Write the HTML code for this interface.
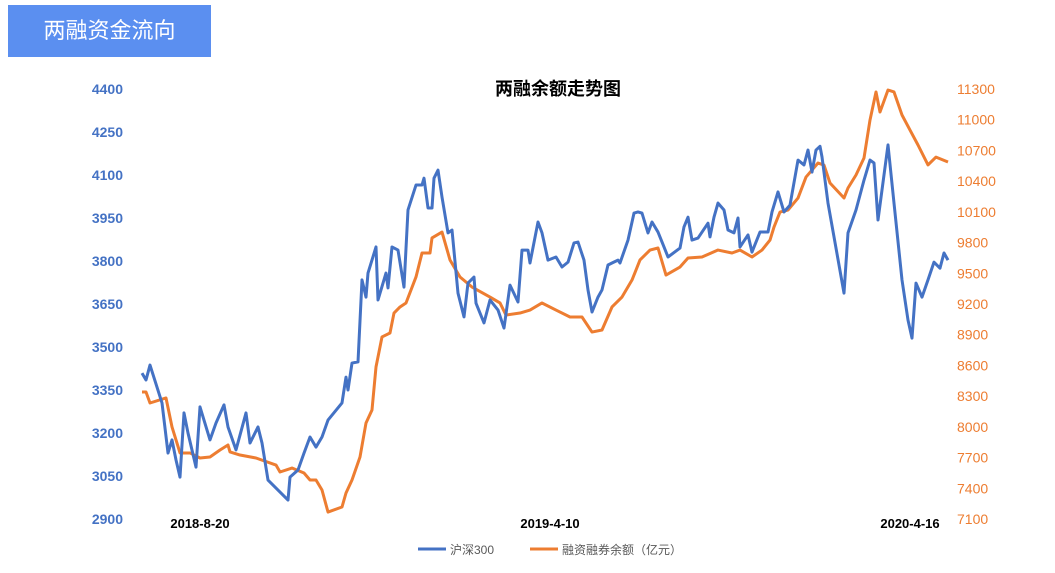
<!DOCTYPE html>
<html><head><meta charset="utf-8">
<style>
body{margin:0;background:#fff;width:1055px;height:573px;overflow:hidden;position:relative;font-family:"Liberation Sans","Noto Sans CJK SC",sans-serif;}
#tag{position:absolute;left:8px;top:5px;width:203px;height:52px;background:#5b8ff0;color:#fff;font-size:22px;line-height:52px;text-align:center;}
svg{position:absolute;left:0;top:0;}
</style></head><body>
<div id="tag">两融资金流向</div>
<svg id="chart" width="1055" height="573"></svg>
<script>
const leftTicks=[2900,3050,3200,3350,3500,3650,3800,3950,4100,4250,4400];
const rightTicks=[7100,7400,7700,8000,8300,8600,8900,9200,9500,9800,10100,10400,10700,11000,11300];
const dateLabels=["2018-8-20","2019-4-10","2020-4-16"];
const dateDays=[30,205,385];
const hsDays=[1,3,5,11,14,16,18,20,22,24,28,30,35,38,42,44,48,53,55,59,61,64,69,74,75,79,82,85,88,91,94,101,103,104,106,109,111,113,114,118,119,123,124,126,129,132,134,138,141,142,144,146,147,149,151,154,156,159,162,164,167,168,172,175,179,182,185,189,191,194,195,199,201,204,208,211,214,217,219,222,224,226,229,231,234,236,239,240,244,247,249,251,254,256,259,262,264,270,272,274,276,279,284,285,287,289,292,294,297,299,300,304,306,310,314,316,319,322,325,329,332,334,336,338,340,341,344,352,354,358,362,365,367,369,374,377,381,384,386,388,391,394,397,400,402,404];
const hsValues=[3409,3385,3437,3305,3130,3176,3106,3046,3270,3200,3081,3291,3176,3235,3298,3221,3141,3270,3165,3221,3165,3036,3001,2966,3046,3071,3130,3186,3151,3186,3245,3305,3395,3350,3444,3448,3734,3674,3758,3849,3664,3758,3706,3849,3838,3709,3978,4065,4065,4089,3985,3985,4089,4117,4023,3898,3908,3688,3605,3723,3744,3653,3584,3664,3629,3566,3716,3657,3838,3838,3793,3936,3898,3803,3814,3779,3796,3863,3866,3803,3699,3622,3674,3699,3786,3793,3803,3793,3873,3967,3971,3967,3898,3936,3901,3849,3814,3845,3919,3953,3873,3880,3932,3884,3953,4002,3978,3908,3898,3950,3849,3891,3831,3901,3901,3971,4041,3971,3995,4152,4135,4187,4110,4187,4200,4163,4002,3688,3898,3978,4082,4152,4142,3943,4205,4002,3734,3594,3531,3723,3674,3734,3796,3775,3828,3803];
const mgDays=[1,3,5,13,16,20,25,30,35,40,44,45,50,58,68,70,76,82,85,88,91,94,101,103,106,110,113,116,118,121,125,127,130,133,138,141,145,146,151,155,160,166,175,180,183,190,195,201,208,215,221,226,231,236,241,246,250,255,259,263,270,274,281,289,296,300,306,311,315,317,320,324,329,333,339,342,345,352,354,358,362,365,368,370,374,377,381,385,389,394,398,404];
const mgValues=[8340,8340,8233,8282,7999,7745,7745,7696,7706,7774,7823,7755,7725,7696,7627,7559,7598,7549,7481,7481,7383,7168,7217,7354,7481,7706,8038,8165,8585,8878,8917,9112,9171,9210,9464,9698,9698,9845,9903,9630,9464,9366,9268,9210,9092,9112,9141,9210,9141,9073,9073,8926,8946,9171,9268,9434,9630,9727,9747,9483,9561,9649,9659,9727,9698,9727,9659,9727,9825,9952,10098,10118,10235,10440,10577,10557,10382,10235,10333,10460,10626,10997,11271,11075,11290,11271,11046,10899,10753,10558,10635,10587];

const svg=document.getElementById('chart');
const NS='http://www.w3.org/2000/svg';
const X0=140,XPD=2;
const xs=d=>X0+d*XPD;
const yL=v=>519-(v-2900)*430/1500;
const yR=v=>519-(v-7100)*430/4200;
function mk(tag,attrs){const e=document.createElementNS(NS,tag);for(const k in attrs)e.setAttribute(k,attrs[k]);svg.appendChild(e);return e;}

let t=mk('text',{x:558,y:95,'text-anchor':'middle','font-size':18,'font-weight':'bold',fill:'#000'});
t.textContent='两融余额走势图';



leftTicks.forEach(v=>{const e=mk('text',{x:123,y:yL(v)+5,'text-anchor':'end','font-size':14,'font-weight':'bold',fill:'#4472c4'});e.textContent=v;

});
rightTicks.forEach(v=>{const e=mk('text',{x:957,y:yR(v)+5,'text-anchor':'start','font-size':14,fill:'#ed7d31'});e.textContent=v;

});
dateLabels.forEach((s,i)=>{const e=mk('text',{x:xs(dateDays[i]),y:528,'text-anchor':'middle','font-size':13,'font-weight':'bold',fill:'#000'});e.textContent=s;

});

const pm=mk('polyline',{points:mgDays.map((d,i)=>xs(d)+','+yR(mgValues[i])).join(' '),fill:'none',stroke:'#ed7d31','stroke-width':3,'stroke-linejoin':'round'});


const ph=mk('polyline',{points:hsDays.map((d,i)=>xs(d)+','+yL(hsValues[i])).join(' '),fill:'none',stroke:'#4472c4','stroke-width':3,'stroke-linejoin':'round'});



const l1=mk('line',{x1:418,y1:549,x2:446,y2:549,stroke:'#4472c4','stroke-width':3});


const lt1=mk('text',{x:450,y:554,'font-size':12,fill:'#595959'});lt1.textContent='沪深300';


const l2=mk('line',{x1:530,y1:549,x2:558,y2:549,stroke:'#ed7d31','stroke-width':3});


const lt2=mk('text',{x:562,y:554,'font-size':12,fill:'#595959'});lt2.textContent='融资融券余额（亿元）';


</script>
</body></html>
